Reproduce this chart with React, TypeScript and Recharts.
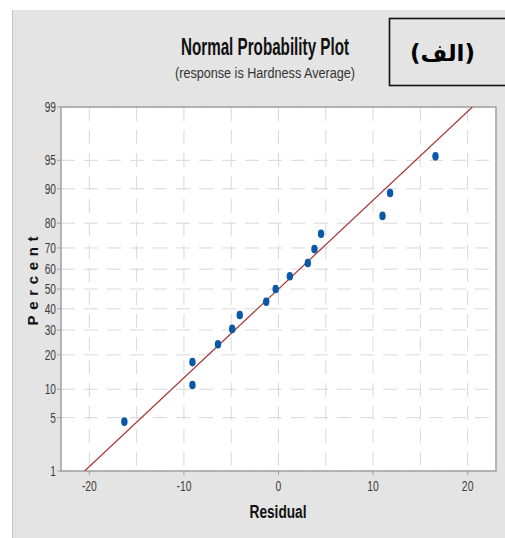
import React from 'react';
import { ScatterChart, Scatter, XAxis, YAxis, CartesianGrid, ReferenceArea } from 'recharts';

// residuals sorted, with the plotting percent
const RESIDUALS = [-16.3, -9.1, -9.1, -6.4, -4.9, -4.1, -1.3, -0.3, 1.2, 3.1, 3.8, 4.5, 11.0, 11.8, 16.6];
const PERCENTS = [4.5, 11.0, 17.5, 24.0, 30.5, 37.0, 43.5, 50.0, 56.5, 63.0, 69.5, 76.0, 82.5, 89.0, 95.5];

// fitted normal line (ends at 1% and 99%)
const FIT_RESIDUALS = [-20.5, 20.5];
const FIT_PERCENTS = [1, 99];

const X_TICKS = [-20, -10, 0, 10, 20];
const X_GRID = [-20, -15, -10, -5, 0, 5, 10, 15, 20];
const Y_TICKS = [1, 5, 10, 20, 30, 40, 50, 60, 70, 80, 90, 95, 99];

const W = 505;
const H = 538;
const FONT = '"Liberation Sans", Arial, sans-serif';
const AR_FONT = '"DejaVu Sans", sans-serif';

// inverse standard normal cdf (Acklam), p in (0,1)
const probit = (p: number): number => {
    const a = [-39.69683028665376, 220.9460984245205, -275.9285104469687, 138.357751867269, -30.66479806614716, 2.506628277459239];
    const b = [-54.47609879822406, 161.5858368580409, -155.6989798598866, 66.80131188771972, -13.28068155288572];
    const c = [-0.007784894002430293, -0.3223964580411365, -2.400758277161838, -2.549732539343734, 4.374664141464968, 2.938163982698783];
    const d = [0.007784695709041462, 0.3224671290700398, 2.445134137142996, 3.754408661907416];
    const lo = 0.02425;
    if (p < lo) {
        const q = Math.sqrt(-2 * Math.log(p));
        return (((((c[0] * q + c[1]) * q + c[2]) * q + c[3]) * q + c[4]) * q + c[5]) / ((((d[0] * q + d[1]) * q + d[2]) * q + d[3]) * q + 1);
    }
    if (p > 1 - lo) {
        const q = Math.sqrt(-2 * Math.log(1 - p));
        return -(((((c[0] * q + c[1]) * q + c[2]) * q + c[3]) * q + c[4]) * q + c[5]) / ((((d[0] * q + d[1]) * q + d[2]) * q + d[3]) * q + 1);
    }
    const q = p - 0.5;
    const r = q * q;
    return (((((a[0] * r + a[1]) * r + a[2]) * r + a[3]) * r + a[4]) * r + a[5]) * q / (((((b[0] * r + b[1]) * r + b[2]) * r + b[3]) * r + b[4]) * r + 1);
};

const toZ = (pct: number) => probit(pct / 100);
const Z_LO = toZ(1);
const Z_HI = toZ(99);
const Y_TICK_Z = Y_TICKS.map(toZ);

const points = RESIDUALS.map((r, i) => ({ x: r, z: toZ(PERCENTS[i]) }));
const fitLine = FIT_RESIDUALS.map((r, i) => ({ x: r, z: toZ(FIT_PERCENTS[i]) }));

const Dot = (props: any) => {
    const { cx, cy } = props;
    if (cx == null || cy == null) return <g />;
    return <ellipse cx={cx} cy={cy} rx={3.2} ry={4.3} fill="#0b58a8" />;
};

const NoDot = () => <g />;

const XTick = (props: any) => {
    const { x, y, payload } = props;
    return (
        <g transform={`translate(${x},${y + 14}) scale(0.74,1)`}>
            <text x={0} y={0} textAnchor="middle" fontSize={14} fontFamily={FONT} fill="#3c3c3c">
                {payload.value}
            </text>
        </g>
    );
};

const YTick = (props: any) => {
    const { x, y, payload } = props;
    let label = Y_TICKS[0];
    let best = Infinity;
    Y_TICK_Z.forEach((z, i) => {
        const dz = Math.abs(z - payload.value);
        if (dz < best) {
            best = dz;
            label = Y_TICKS[i];
        }
    });
    return (
        <g transform={`translate(${x + 1},${y + 5}) scale(0.7,1)`}>
            <text x={0} y={0} textAnchor="end" fontSize={14.5} fontFamily={FONT} fill="#3c3c3c">
                {label}
            </text>
        </g>
    );
};

export default function App() {
    return (
        <div style={{ position: 'absolute', left: 0, top: 0, width: W, height: H, background: '#fff' }}>
            <svg width={W} height={H} style={{ position: 'absolute', left: 0, top: 0 }}>
                <rect x={12} y={10} width={W - 12} height={H - 10} fill="#e4e4e4" />
                <line x1={12.5} y1={10} x2={12.5} y2={H} stroke="#c4c4c4" strokeWidth={1} />
                <rect x={389.5} y={18.5} width={140} height={67} fill="none" stroke="#111" strokeWidth={1.6} />
                <text x={442.5} y={61} textAnchor="middle" fontSize={23} fontWeight="bold" fontFamily={AR_FONT} fill="#000"
                    direction="rtl" unicodeBidi="bidi-override">
                    (الف)
                </text>
                <text x={265} y={55} textAnchor="middle" fontSize={23} fontWeight="bold" fontFamily={FONT} fill="#111"
                    textLength={168} lengthAdjust="spacingAndGlyphs">
                    Normal Probability Plot
                </text>
                <text x={265} y={78} textAnchor="middle" fontSize={14} fontFamily={FONT} fill="#333"
                    textLength={180} lengthAdjust="spacingAndGlyphs">
                    (response is Hardness Average)
                </text>
                <text x={278} y={518} textAnchor="middle" fontSize={18} fontWeight="bold" fontFamily={FONT} fill="#111"
                    textLength={57} lengthAdjust="spacingAndGlyphs">
                    Residual
                </text>
                <text transform="translate(38,281) rotate(-90)" x={0} y={0} textAnchor="middle" fontSize={15} fontWeight="bold"
                    fontFamily={FONT} fill="#111" textLength={89} lengthAdjust="spacing">
                    Percent
                </text>
            </svg>
            <div style={{ position: 'absolute', left: 0, top: 0 }}>
                <ScatterChart width={W} height={H} margin={{ top: 107, right: 9, bottom: 27, left: 16 }}>
                    <CartesianGrid
                        fill="#ffffff"
                        stroke="#d8d8d8"
                        strokeDasharray="14 9"
                        verticalValues={X_GRID}
                        horizontalValues={Y_TICK_Z}
                    />
                    <XAxis
                        type="number"
                        dataKey="x"
                        domain={[-23, 23]}
                        ticks={X_TICKS}
                        allowDataOverflow
                        height={40}
                        axisLine={false}
                        tickSize={4}
                        tickLine={{ stroke: '#a0a0a0' }}
                        tick={<XTick />}
                        interval={0}
                    />
                    <YAxis
                        type="number"
                        dataKey="z"
                        domain={[Z_LO, Z_HI]}
                        ticks={Y_TICK_Z}
                        allowDataOverflow
                        width={45}
                        axisLine={false}
                        tickSize={4}
                        tickLine={{ stroke: '#a0a0a0' }}
                        tick={<YTick />}
                        interval={0}
                    />
                    <ReferenceArea x1={-23} x2={23} y1={Z_LO} y2={Z_HI} fill="none" fillOpacity={0} stroke="#a0a0a0" strokeWidth={1.5} />
                    <Scatter data={fitLine} line={{ stroke: '#a83434', strokeWidth: 1.2 }} shape={<NoDot />} isAnimationActive={false} />
                    <Scatter data={points} shape={<Dot />} isAnimationActive={false} />
                </ScatterChart>
            </div>
        </div>
    );
}
